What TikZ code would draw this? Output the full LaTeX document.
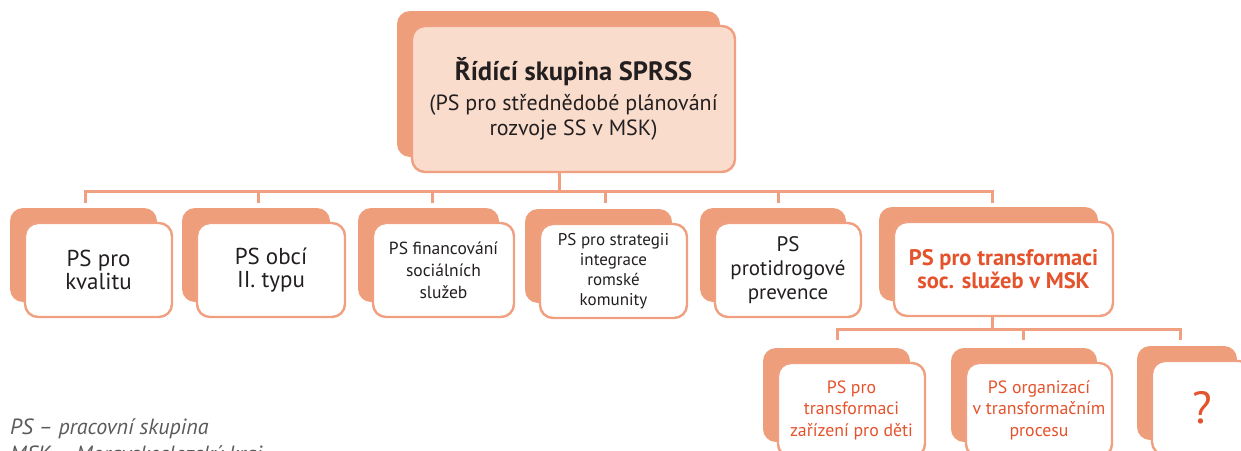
\documentclass[tikz,border=0pt]{standalone}
\usepackage{fontspec}
\setmainfont{PT Sans}
\usetikzlibrary{shadows,calc}
\definecolor{backc}{HTML}{EF9E7C}
\definecolor{edgec}{HTML}{F0A080}
\definecolor{topfill}{HTML}{F9DCCB}
\definecolor{txt}{HTML}{231F20}
\definecolor{redt}{HTML}{E5532D}
\definecolor{legc}{HTML}{5A5A5A}
\begin{document}
\begin{tikzpicture}[x=1pt,y=-1pt,
  box/.style={draw=edgec, line width=2.4pt, fill=white, rounded corners=13pt,
    align=center, text=txt, inner sep=0pt,
    copy shadow={shadow xshift=-15pt, shadow yshift=15pt, fill=backc, draw=none}},
  rowone/.style={box, minimum height=94pt},
  conn/.style={draw=edgec, line width=3pt}]
\clip (0,0) rectangle (1241,450);
\fill[white] (0,0) rectangle (1241,450);
% top
\node[box, fill=topfill, minimum width=323pt, minimum height=146pt,
  font=\fontsize{22}{25.5}\selectfont] (top) at (573.5,99)
  {{\fontsize{26.5}{30}\selectfont\bfseries Řídící skupina SPRSS}\\[4pt]
   (PS pro střednědobé plánování\\ rozvoje SS v MSK)};
% row one
\node[rowone, minimum width=147pt, font=\fontsize{23}{22.5}\selectfont] (b1) at (98.5,270) {PS pro\\kvalitu};
\node[rowone, minimum width=148pt, font=\fontsize{23}{22.5}\selectfont] (b2) at (271,270) {PS obcí\\II. typu};
\node[rowone, minimum width=141pt, font=\fontsize{17.5}{22}\selectfont] (b3) at (443.5,270) {PS financování\\sociálních\\služeb};
\node[rowone, minimum width=147pt, font=\fontsize{17}{20}\selectfont] (b4) at (613.5,271) {PS pro strategii\\integrace\\romské\\komunity};
\node[rowone, minimum width=146pt, font=\fontsize{21}{24}\selectfont] (b5) at (788,270) {PS\\protidrogové\\prevence};
\node[rowone, minimum width=219pt, text=redt, font=\fontsize{22.5}{23}\selectfont\bfseries] (b6) at (1003.5,269) {PS pro transformaci\\soc. služeb v MSK};
% row two
\node[rowone, minimum width=147pt, text=redt, font=\fontsize{17.8}{21.5}\selectfont] (c1) at (851.5,410) {PS pro\\transformaci\\zařízení pro děti};
\node[rowone, minimum width=146pt, text=redt, font=\fontsize{17.8}{21.5}\selectfont] (c2) at (1039,410) {PS organizací\\v transformačním\\procesu};
\node[rowone, minimum width=100pt, text=redt, font=\fontsize{45}{48}\selectfont] (c3) at (1202,408) {?};
% connectors level 1
\coordinate (bus) at (559,191);
\coordinate (t1) at (85,203);
\coordinate (t2) at (258,203);
\coordinate (t3) at (432,203);
\coordinate (t4) at (605,203);
\coordinate (t5) at (778,203);
\coordinate (t6) at (992,203);
\draw[conn] (top.south -| bus) -- (bus);
\draw[conn, line cap=rect] (t1 |- bus) -- (t6 |- bus);
\foreach \t in {t1,t2,t3,t4,t5,t6} \draw[conn] (\t |- bus) -- (\t);
% connectors level 2
\coordinate (bus2) at (992,329);
\coordinate (u1) at (837,340);
\coordinate (u2) at (1023,340);
\coordinate (u3) at (1180,340);
\draw[conn] (b6.south -| bus2) -- (bus2);
\draw[conn, line cap=rect] (u1 |- bus2) -- (u3 |- bus2);
\foreach \u in {u1,u2,u3} \draw[conn] (\u |- bus2) -- (\u);
% legend
\node[anchor=base west, inner sep=0pt, text=legc, font=\fontsize{22}{24}\selectfont\itshape] (leg1) at (10,434) {PS – pracovní skupina};
\node[anchor=base west, inner sep=0pt, text=legc, font=\fontsize{22}{24}\selectfont\itshape] (leg2) at (10,461) {MSK – Moravskoslezský kraj};
\end{tikzpicture}
\end{document}
